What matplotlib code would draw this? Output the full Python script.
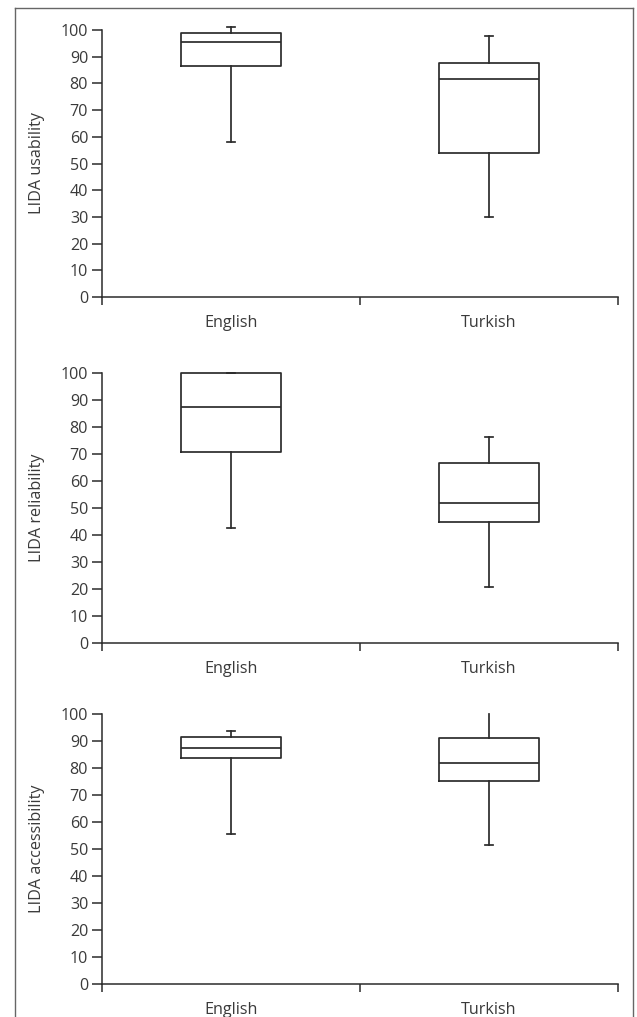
import matplotlib
matplotlib.use("Agg")
import matplotlib.pyplot as plt
from matplotlib.lines import Line2D

plt.rcParams['font.family'] = ['Open Sans', 'DejaVu Sans']

groups = ["English", "Turkish"]
y_labels = ["LIDA usability", "LIDA reliability", "LIDA accessibility"]

# five-number summaries per panel: [English, Turkish]
whis_low = [[58.1, 29.9], [42.6, 20.7], [55.4, 51.5]]
q1 = [[86.6, 54.1], [70.5, 44.6], [83.6, 75.3]]
median = [[95.6, 81.6], [87.3, 51.9], [87.5, 82.0]]
q3 = [[98.7, 87.7], [100.0, 66.7], [91.6, 91.0]]
whis_high = [[101.2, 97.7], [100.0, 76.3], [93.8, 99.9]]

y_ticks = list(range(0, 101, 10))

W, H = 637, 1017
fig = plt.figure(figsize=(W / 100, H / 100), dpi=100)

ink = "#2b2b2b"
text_c = "#3a3a3a"
fs = 11.6

# panel extents in pixels: (left, right, top of axis, bottom of axis)
panels = [(102, 618, 30, 297), (102, 618, 372.7, 642.7), (102, 618, 714, 984)]

for i, (l, r, t, b) in enumerate(panels):
    ax = fig.add_axes([l / W, 1 - b / H, (r - l) / W, (b - t) / H])
    stats = []
    for j, g in enumerate(groups):
        stats.append(dict(label=g, med=median[i][j], q1=q1[i][j], q3=q3[i][j],
                          whislo=whis_low[i][j], whishi=whis_high[i][j], fliers=[]))
    lw = 1.25
    art = ax.bxp(stats, positions=[1, 2], widths=0.39, capwidths=0.028,
                 showfliers=False, patch_artist=False,
                 boxprops=dict(color=ink, linewidth=lw),
                 medianprops=dict(color=ink, linewidth=lw),
                 whiskerprops=dict(color=ink, linewidth=lw),
                 capprops=dict(color=ink, linewidth=lw))
    for key in art:
        for a in art[key]:
            a.set_clip_on(False)
    if i == 2:
        # upper whisker of the Turkish accessibility box has no cap
        art["caps"][3].set_visible(False)

    ax.set_xlim(0.5, 2.5)
    ax.set_ylim(0, 100)
    ax.set_yticks(y_ticks)
    ax.set_xticks([0.5, 1.5, 2.5])
    ax.set_xticklabels([])
    ax.set_xticks([1, 2], minor=True)
    ax.set_xticklabels(groups, minor=True)
    ax.tick_params(axis="x", which="major", direction="out", length=6, width=1.1, color=ink)
    ax.tick_params(axis="x", which="minor", length=0, pad=13, labelsize=fs, labelcolor=text_c)
    ax.tick_params(axis="y", direction="out", length=7, width=1.1, color=ink,
                   labelsize=fs, labelcolor=text_c, pad=3)
    for s in ["top", "right"]:
        ax.spines[s].set_visible(False)
    for s in ["left", "bottom"]:
        ax.spines[s].set_color(ink)
        ax.spines[s].set_linewidth(1.1)
    ax.set_ylabel(y_labels[i], fontsize=fs, color=text_c, labelpad=11)
    ax.patch.set_alpha(0)

# outer frame (left, top and right edges)
frame_c = "#666666"
fx0, fx1, fy0 = 14.5 / W, 633 / W, 1 - 8.3 / H
fig.add_artist(Line2D([fx0, fx0], [0, fy0], color=frame_c, linewidth=1.0))
fig.add_artist(Line2D([fx1, fx1], [0, fy0], color=frame_c, linewidth=1.0))
fig.add_artist(Line2D([fx0, fx1], [fy0, fy0], color=frame_c, linewidth=1.0))

fig.savefig("out.png", dpi=100)
